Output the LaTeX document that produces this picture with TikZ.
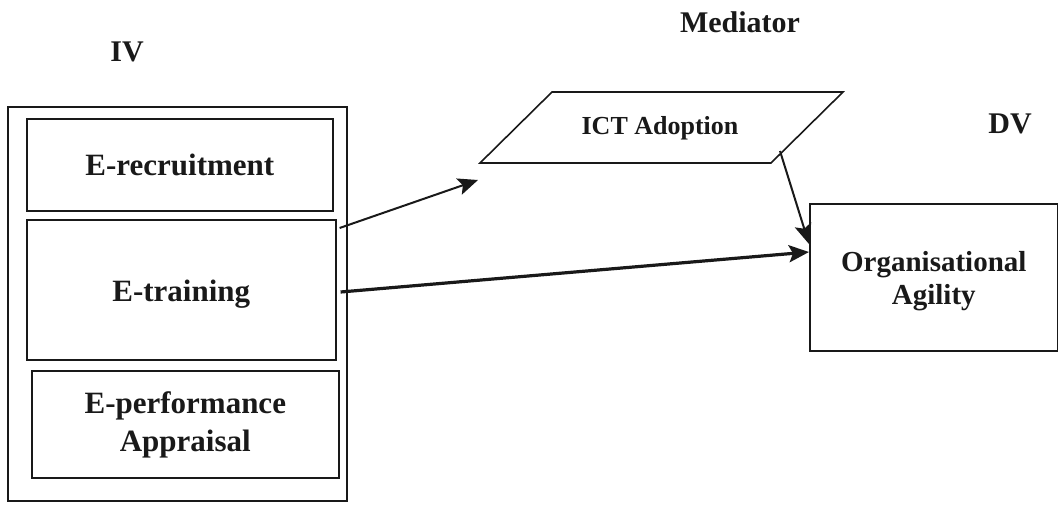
\documentclass[tikz,border=0pt]{standalone}
\usepackage{fontspec}
\setmainfont{Liberation Serif}
\usetikzlibrary{arrows.meta}
\begin{document}
\begin{tikzpicture}[x=1pt,y=-1pt,
  box/.style={draw=black!90, line width=1.6pt},
  lbl/.style={font=\bfseries\fontsize{30}{30}\selectfont, text=black!90},
  boxtext/.style={font=\bfseries\fontsize{31}{38}\selectfont, align=center, text=black!90},
  link/.style={line width=2pt, draw=black!90, -{Stealth[length=20pt,width=17pt,inset=4pt]}},
  mainlink/.style={line width=3.2pt, draw=black!90, -{Stealth[length=20pt,width=17pt,inset=4pt]}}]
\useasboundingbox (0,0) rectangle (1058,504);

% headings
\node[lbl] (iv) at (127,52) {IV};
\node[lbl] (med) at (740,22) {Mediator};
\node[lbl] (dv) at (1010,124) {DV};

% independent variables
\draw[box] (8,107) rectangle (347,501);
\node[box, minimum width=306pt, minimum height=92pt, anchor=north west, inner sep=0pt] (rec) at (26,118) {};
\node[boxtext] at (rec.center) {E-recruitment};
\node[box, minimum width=309pt, minimum height=140pt, anchor=north west, inner sep=0pt] (tr) at (26,219) {};
\node[boxtext] at ([yshift=-4pt]tr.center) {E-training};
\node[box, minimum width=307pt, minimum height=107pt, anchor=north west, inner sep=0pt] (perf) at (31,370) {};
\node[boxtext] at ([yshift=-1pt]perf.center) {E-performance\\Appraisal};

% mediator
\draw[box] (480,163) -- (552,92) -- (843,92) -- (771,163) -- cycle;
\node[font=\bfseries\fontsize{26}{26}\selectfont, text=black!90] (ict) at (660,128) {ICT Adoption};
\coordinate (ictout) at (780,151);
\coordinate (ictin) at (478,180);

% dependent variable
\node[box, minimum width=248pt, minimum height=147pt, anchor=north west, inner sep=0pt] (org) at (809,203) {};
\node[font=\bfseries\fontsize{29}{33}\selectfont, align=center, text=black!90] at ([yshift=-4pt]org.center) {Organisational\\Agility};

% connectors
\draw[link] (tr.north east |- 0,228) ++(3,0) -- (ictin);
\draw[link] (ictout) -- (org.west |- 0,244);
\draw[mainlink] (tr.east |- 0,292) ++(4,0) -- (org.west |- 0,252);
\end{tikzpicture}
\end{document}
